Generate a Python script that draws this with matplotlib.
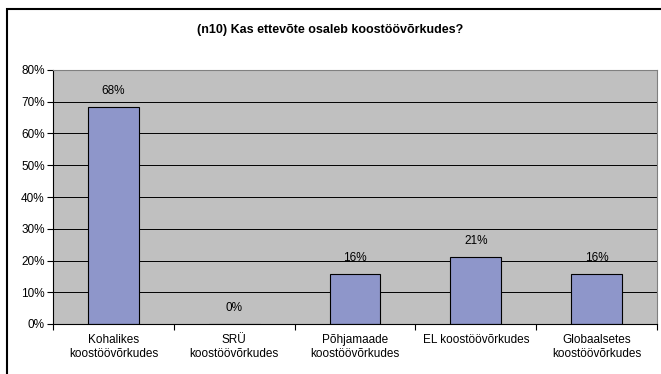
import numpy as np
import matplotlib.pyplot as plt
from matplotlib.patches import Rectangle
from matplotlib.ticker import PercentFormatter

plt.rcParams['font.family'] = ['Liberation Sans', 'DejaVu Sans']

# andmed
kategooriad = ['Kohalikes\nkoostöövõrkudes', 'SRÜ\nkoostöövõrkudes',
               'Põhjamaade\nkoostöövõrkudes', 'EL koostöövõrkudes',
               'Globaalsetes\nkoostöövõrkudes']
vaartused = [68.4, 0, 15.8, 21.1, 15.8]
sildid = ['68%', '0%', '16%', '21%', '16%']

fig = plt.figure(figsize=(6.61, 3.74), dpi=100)
ax = fig.add_axes([53/661, 1 - 324/374, 604/661, 254/374])

# välimine raam
fig.patches.append(Rectangle((7/661, -0.1), 1.2, 1.1 - 9.5/374, transform=fig.transFigure,
                             fill=False, edgecolor='black', linewidth=1.5))

x = np.arange(len(kategooriad))
ax.set_facecolor('#C0C0C0')
ax.set_axisbelow(True)
ax.grid(axis='y', color='black', linewidth=0.7)
ax.bar(x, vaartused, width=0.42, color='#8E96CA', edgecolor='black', linewidth=0.8)

for xi, v, s in zip(x, vaartused, sildid):
    ax.text(xi, v + 3.2, s, ha='center', va='bottom', fontsize=8.5)

ax.set_xlim(-0.5, len(kategooriad) - 0.5)
ax.set_ylim(0, 80)
ax.set_yticks(range(0, 81, 10))
ax.yaxis.set_major_formatter(PercentFormatter(decimals=0))
ax.set_xticks(x)
ax.set_xticklabels(kategooriad, fontsize=8.5, linespacing=1.25)
ax.set_xticks(np.arange(-0.5, len(kategooriad)), minor=True)
ax.tick_params(axis='x', which='major', length=0, pad=7)
ax.tick_params(axis='x', which='minor', length=4, width=0.8)
ax.tick_params(axis='y', labelsize=8.5, length=4, width=0.8, pad=2)

for side in ['top', 'right']:
    ax.spines[side].set_color('#808080')
for side in ['left', 'bottom']:
    ax.spines[side].set_color('black')
for sp in ax.spines.values():
    sp.set_linewidth(0.8)

fig.text(0.5, 1 - 30/374, '(n10) Kas ettevõte osaleb koostöövõrkudes?', ha='center', va='center',
         fontsize=9, fontweight='bold')

fig.savefig('out.png', dpi=100)
